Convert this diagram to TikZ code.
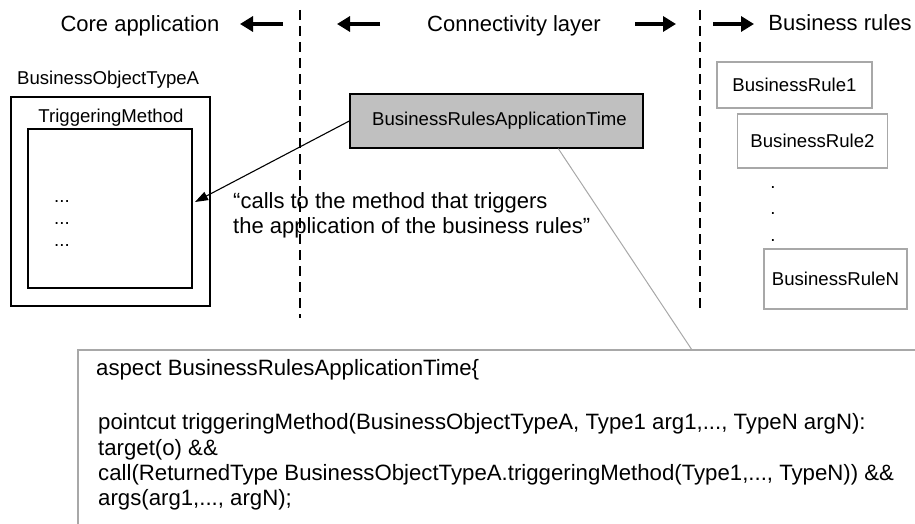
\documentclass[tikz,border=0pt]{standalone}
\usepackage{fontspec}
\setmainfont{Liberation Sans}
\usetikzlibrary{arrows.meta,calc}
\definecolor{boxgray}{HTML}{C0C0C0}
\definecolor{linegray}{HTML}{A8A8A8}
\begin{document}
\begin{tikzpicture}[x=1pt,y=-1pt,
  head/.style={font=\fontsize{22}{26}\selectfont,inner sep=0pt,anchor=base},
  lbl/.style={font=\fontsize{18.6}{22}\selectfont,inner sep=0pt},
  code/.style={font=\fontsize{22.2}{25}\selectfont,inner sep=0pt,anchor=base west},
  quote/.style={font=\fontsize{22}{26}\selectfont,inner sep=0pt,anchor=base west},
  bigarrow/.style={line width=4pt,-{Triangle[length=13pt,width=15pt]}},
  divider/.style={line width=1.3pt,dash pattern=on 10pt off 6pt},
  plainbox/.style={draw,line width=1.2pt,inner sep=0pt},
  rulebox/.style={draw=linegray,line width=1.4pt,inner sep=0pt,font=\fontsize{18.6}{22}\selectfont},
  aspectbox/.style={draw,line width=1.4pt,fill=boxgray,inner sep=0pt,font=\fontsize{18.6}{22}\selectfont}
]
\useasboundingbox (0,0) rectangle (915,524);
\clip (0,0) rectangle (915,524);

% headings
\node[head] (hcore) at (140,32) {Core application};
\node[head] (hconn) at (514,32) {Connectivity layer};
\node[head] (hrules) at (840,31) {Business rules};

% header arrows
\coordinate (a1s) at (283,24); \coordinate (a1e) at (240,24);
\coordinate (a2s) at (380,24); \coordinate (a2e) at (337,24);
\coordinate (a3s) at (635,24); \coordinate (a3e) at (676,24);
\coordinate (a4s) at (713,24); \coordinate (a4e) at (754,24);
\draw[bigarrow] (a1s) -- (a1e);
\draw[bigarrow] (a2s) -- (a2e);
\draw[bigarrow] (a3s) -- (a3e);
\draw[bigarrow] (a4s) -- (a4e);

% dividers
\coordinate (d1t) at (300,10); \coordinate (d1b) at (300,318);
\coordinate (d2t) at (700,10); \coordinate (d2b) at (700,310);
\draw[divider] (d1t) -- (d1b);
\draw[divider] (d2t) -- (d2b);

% business object
\node[lbl,anchor=base west] (botype) at (17,85) {BusinessObjectTypeA};
\node[plainbox,minimum width=199pt,minimum height=209pt] (outer) at (110.5,201.5) {};
\node[lbl,anchor=base] (trig) at (111,123) {TriggeringMethod};
\node[plainbox,minimum width=164pt,minimum height=159pt] (inner) at (110,208.5) {};
\node[lbl,anchor=base west] (dot1) at (54,202) {...};
\node[lbl,anchor=base west] (dot2) at (54,224) {...};
\node[lbl,anchor=base west] (dot3) at (54,246) {...};

% aspect box
\node[aspectbox,minimum width=293pt,minimum height=54pt] (asp) at (496.5,121) {\hspace*{6pt}BusinessRulesApplicationTime};
\coordinate (tip) at (195,202);
\draw[line width=1.1pt,-{Triangle[length=13pt,width=9pt]}] (asp.west) -- (tip);

\node[quote] (q1) at (233,208) {“calls to the method that triggers};
\node[quote] (q2) at (233,233) {the application of the business rules”};

% business rules
\node[rulebox,minimum width=155pt,minimum height=46pt] (br1) at (794.5,85) {BusinessRule1};
\node[rulebox,minimum width=150pt,minimum height=54pt] (br2) at (812.5,141) {BusinessRule2};
\node[lbl,anchor=base] (rd1) at (773,188) {.};
\node[lbl,anchor=base] (rd2) at (773,214) {.};
\node[lbl,anchor=base] (rd3) at (773,241) {.};
\node[rulebox,minimum width=143pt,minimum height=60pt] (brn) at (835.5,279) {BusinessRuleN};

% code box
\draw[linegray,line width=1.4pt] (930,350) -- (78,350) -- (78,540);
\coordinate (cboxtop) at (692,350);
\draw[linegray,line width=1pt] ($(asp.south west)!0.71!(asp.south east)$) -- (cboxtop);

\node[code] (c1) at (96,375) {aspect BusinessRulesApplicationTime\{};
\node[code] (c2) at (98,429) {pointcut triggeringMethod(BusinessObjectTypeA, Type1 arg1,..., TypeN argN):};
\node[code] (c3) at (98,455) {target(o) \&\&};
\node[code] (c4) at (98,480) {call(ReturnedType BusinessObjectTypeA.triggeringMethod(Type1,..., TypeN)) \&\&};
\node[code] (c5) at (98,505) {args(arg1,..., argN);};
\end{tikzpicture}
\end{document}
